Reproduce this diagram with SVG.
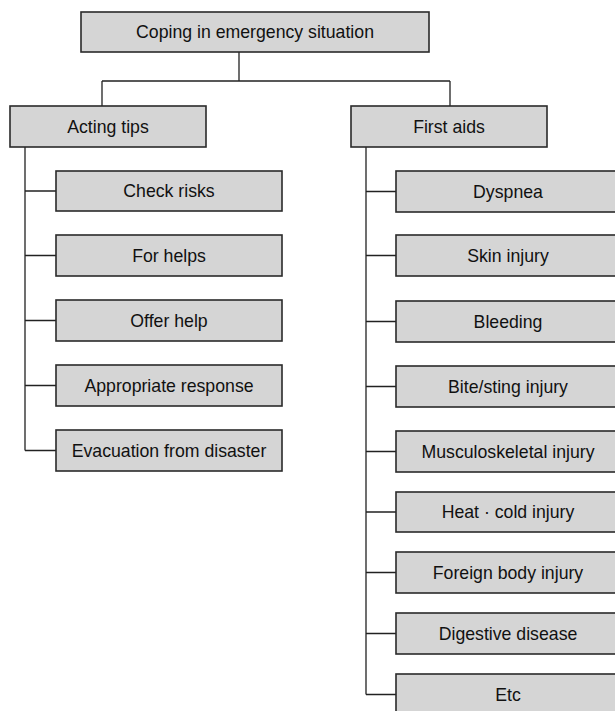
<svg xmlns="http://www.w3.org/2000/svg" width="615" height="711" viewBox="0 0 615 711">
<defs>
<style>
.box{fill:#d5d5d5;stroke:#2a2a2a;stroke-width:1.6}
.lbl{font-family:"Liberation Sans",Arial,sans-serif;font-size:17.7px;fill:#111;text-anchor:middle}
.con{fill:none;stroke:#222;stroke-width:1.3}
</style>
</defs>
<rect width="615" height="711" fill="#ffffff"/>
<g id="connectors">
<path class="con" d="M239,52 V81 M102,81 H450 M102,81 V106 M450,81 V106"/>
<path class="con" d="M25,147 V450.5 M25,191 H56 M25,255.5 H56 M25,320.5 H56 M25,385.5 H56 M25,450.5 H56"/>
<path class="con" d="M366,147 V694.5 M366,191.5 H396 M366,255.5 H396 M366,321.5 H396 M366,386.5 H396 M366,451.5 H396 M366,512 H396 M366,572.5 H396 M366,633.5 H396 M366,694.5 H396"/>
</g>
<g id="root"><rect class="box" x="81" y="12" width="348" height="40"/><text class="lbl" x="255" y="38.3">Coping in emergency situation</text></g>
<g id="acting"><rect class="box" x="10" y="106" width="196" height="41"/><text class="lbl" x="108" y="132.8">Acting tips</text></g>
<g id="firstaids"><rect class="box" x="351" y="106" width="196" height="41"/><text class="lbl" x="449" y="132.8">First aids</text></g>
<g id="check"><rect class="box" x="56" y="171" width="226" height="40"/><text class="lbl" x="169" y="197.3">Check risks</text></g>
<g id="forhelps"><rect class="box" x="56" y="235" width="226" height="41"/><text class="lbl" x="169" y="261.8">For helps</text></g>
<g id="offer"><rect class="box" x="56" y="300" width="226" height="41"/><text class="lbl" x="169" y="326.8">Offer help</text></g>
<g id="appropriate"><rect class="box" x="56" y="365" width="226" height="41"/><text class="lbl" x="169" y="391.8">Appropriate response</text></g>
<g id="evacuation"><rect class="box" x="56" y="430" width="226" height="41"/><text class="lbl" x="169" y="456.8">Evacuation from disaster</text></g>
<g id="dyspnea"><rect class="box" x="396" y="171" width="226" height="41"/><text class="lbl" x="508" y="197.8">Dyspnea</text></g>
<g id="skin"><rect class="box" x="396" y="235" width="226" height="41"/><text class="lbl" x="508" y="261.8">Skin injury</text></g>
<g id="bleeding"><rect class="box" x="396" y="301" width="226" height="41"/><text class="lbl" x="508" y="327.8">Bleeding</text></g>
<g id="bite"><rect class="box" x="396" y="366" width="226" height="41"/><text class="lbl" x="508" y="392.8">Bite/sting injury</text></g>
<g id="musculo"><rect class="box" x="396" y="431" width="226" height="41"/><text class="lbl" x="508" y="457.8">Musculoskeletal injury</text></g>
<g id="heat"><rect class="box" x="396" y="492" width="226" height="40"/><text class="lbl" x="508" y="518.3">Heat · cold injury</text></g>
<g id="foreign"><rect class="box" x="396" y="552" width="226" height="41"/><text class="lbl" x="508" y="578.8">Foreign body injury</text></g>
<g id="digestive"><rect class="box" x="396" y="613" width="226" height="41"/><text class="lbl" x="508" y="639.8">Digestive disease</text></g>
<g id="etc"><rect class="box" x="396" y="674" width="226" height="41"/><text class="lbl" x="508" y="700.8">Etc</text></g>
</svg>
